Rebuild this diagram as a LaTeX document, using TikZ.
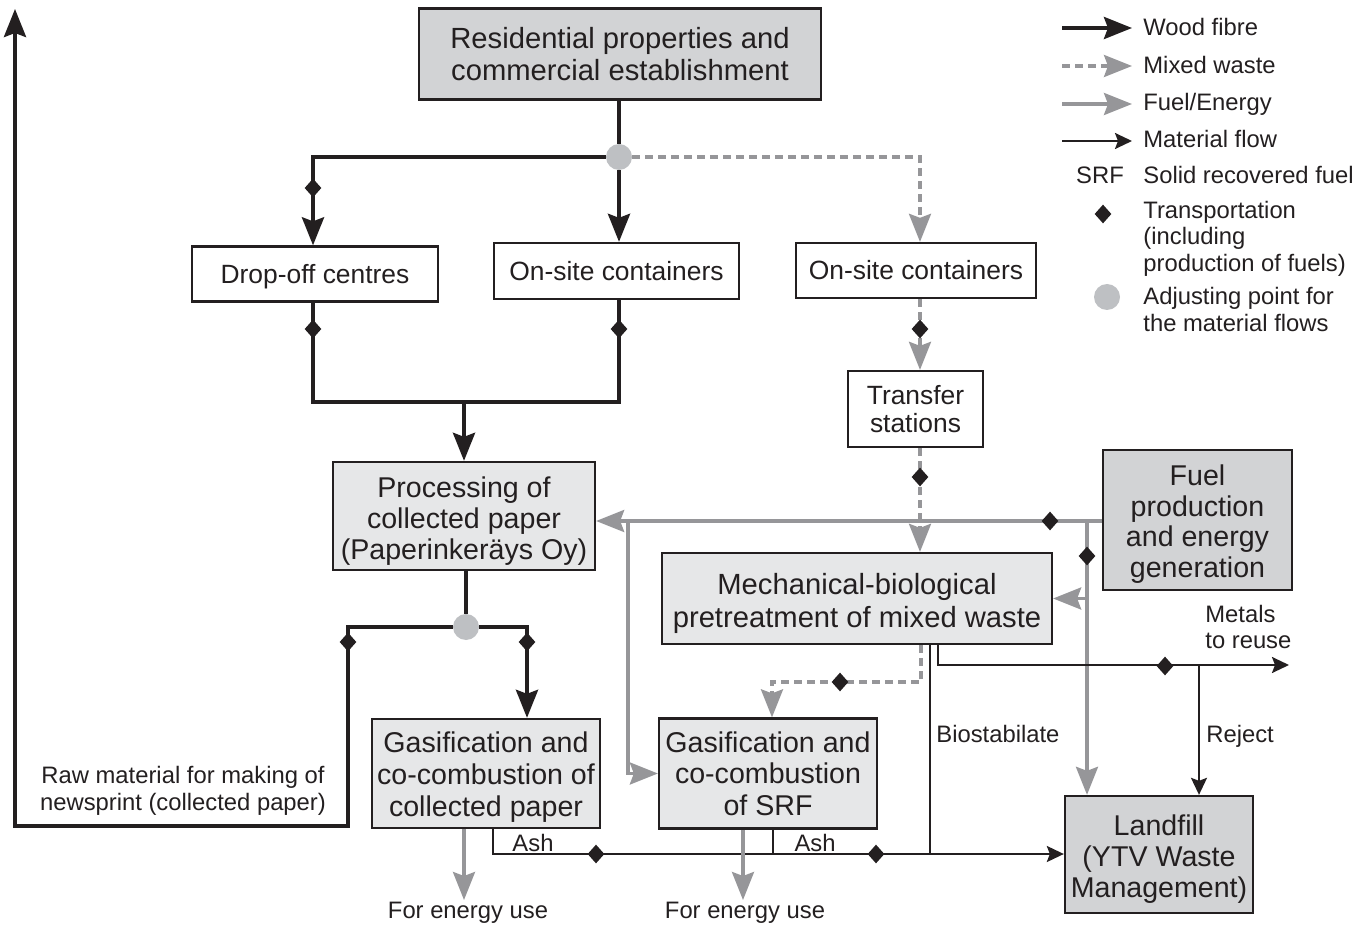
\documentclass[tikz,border=0pt]{standalone}
\usepackage{fontspec}
\setmainfont{Liberation Sans}
\usetikzlibrary{arrows.meta,shapes.geometric,calc}

\definecolor{ink}{RGB}{35,31,32}
\definecolor{flowgray}{RGB}{150,150,153}
\definecolor{boxdark}{RGB}{210,211,213}
\definecolor{boxlight}{RGB}{230,231,232}
\definecolor{jointgray}{RGB}{190,192,195}

\pgfdeclarelayer{lines}
\pgfsetlayers{lines,main}

% a taller first line balances the descenders of the last line
\newcommand{\firstline}[1]{\rule{0pt}{#1}}

\begin{document}
\begin{tikzpicture}[x=0.5pt,y=-0.5pt,
  box/.style={draw=ink,line width=1.15pt,inner sep=0pt,align=center,text=ink},
  whitebox/.style={box,fill=white,font=\fontsize{13.2}{13.6}\selectfont},
  lightbox/.style={box,fill=boxlight,font=\fontsize{14.3}{15.7}\selectfont},
  darkbox/.style={box,fill=boxdark,font=\fontsize{14.3}{15.4}\selectfont},
  lbl/.style={text=ink,font=\fontsize{11.9}{13.4}\selectfont,inner sep=0pt},
  bigtip/.style={-{Stealth[length=14pt,width=11pt,inset=2pt]}},
  smalltip/.style={-{Stealth[length=8.5pt,width=8pt,inset=1.5pt]}},
  wood/.style={draw=ink,line width=2pt},
  woodarrow/.style={wood,bigtip},
  mixed/.style={draw=flowgray,line width=1.6pt,dash pattern=on 4pt off 2.5pt},
  mixedarrow/.style={mixed,bigtip},
  fuel/.style={draw=flowgray,line width=1.7pt},
  fuelarrow/.style={fuel,bigtip},
  mat/.style={draw=ink,line width=1.1pt},
  matarrow/.style={mat,smalltip},
  transp/.style={diamond,fill=ink,inner sep=0pt,minimum width=8.5pt,minimum height=9.5pt},
  joint/.style={circle,fill=jointgray,inner sep=0pt,minimum size=13pt},
]
\useasboundingbox (0,0) rectangle (1371,925);

% ---------------- boxes ----------------
\node[darkbox,font=\fontsize{14.6}{16}\selectfont,minimum width=201pt,minimum height=45.5pt] (res) at (620,54)
  {Residential properties and\\commercial establishment};
\node[whitebox,minimum width=123pt,minimum height=27.5pt] (drop) at (315,274) {\firstline{12pt}Drop-off centres};
\node[whitebox,minimum width=122.5pt,minimum height=28pt] (site1) at (616.5,271) {On-site containers};
\node[whitebox,minimum width=120pt,minimum height=27.5pt] (site2) at (916,270.5) {On-site containers};
\node[whitebox,minimum width=67.5pt,minimum height=38pt] (trans) at (915.5,409) {Transfer\\stations};
\node[lightbox,minimum width=131pt,minimum height=54pt] (proc) at (464,516)
  {\firstline{15.4pt}Processing of\\collected paper\\(Paperinkeräys Oy)};
\node[lightbox,font=\fontsize{14.6}{16.5}\selectfont,minimum width=195pt,minimum height=45.5pt] (mbt) at (857,598.5)
  {\firstline{15.8pt}Mechanical-biological\\pretreatment of mixed waste};
\node[darkbox,minimum width=94.5pt,minimum height=70pt] (fuelp) at (1197.5,520)
  {\firstline{14.4pt}Fuel\\production\\and energy\\generation};
\node[lightbox,font=\fontsize{14.3}{16.2}\selectfont,minimum width=114pt,minimum height=54.5pt] (gasp) at (486,773.5)
  {\firstline{14pt}Gasification and\\co-combustion of\\collected paper};
\node[lightbox,minimum width=109pt,minimum height=55pt] (gass) at (768,773.5)
  {Gasification and\\co-combustion\\of SRF};
\node[darkbox,minimum width=94pt,minimum height=58.5pt] (land) at (1159,854.5)
  {\firstline{15pt}Landfill\\(YTV Waste\\Management)};

% ---------------- adjusting points ----------------
\node[joint] (j1) at (619,157) {};
\node[joint] (j2) at (466,627) {};

% ---------------- bends of the connectors ----------------
\coordinate (m1) at (464,402);
\coordinate (dx) at (920,0);
\coordinate (fb1) at (628,521);
\coordinate (fb2) at (1087,521);
\coordinate (mx) at (921,682);
\coordinate (srfin) at (772,682);
\coordinate (mt) at (938,665);
\coordinate (metals) at (1289,665);
\coordinate (rj) at (1199,665);
\coordinate (bs) at (930,854);
\coordinate (ash1) at (493,854);
\coordinate (ash2) at (773,854);
\coordinate (en1) at (464,900);
\coordinate (en2) at (743,900);
\coordinate (pl) at (348,627);
\coordinate (pr) at (527,627);
\coordinate (rawb) at (348,826);
\coordinate (rawc) at (15,826);
\coordinate (rawtop) at (15,9);

\begin{pgfonlayer}{lines}
  % wood fibre: collection of paper
  \draw[wood] (res.south -| j1) -- (j1);
  \draw[woodarrow] (j1) -| (drop.north -| 313,0);
  \draw[woodarrow] (j1) -- (j1 |- site1.north);
  \draw[wood] (drop.south -| 313,0) |- (m1) -| (site1.south -| j1);
  \draw[woodarrow] (m1) -- (m1 |- proc.north);
  % mixed waste chain
  \draw[mixedarrow] (j1) -| (site2.north -| dx);
  \draw[mixedarrow] (site2.south -| dx) -- (trans.north -| dx);
  \draw[mixedarrow] (trans.south -| dx) -- (mbt.north -| dx);
  % fuel / energy supply
  \draw[fuelarrow] (fuelp.west |- fb2) -- (proc.east |- fb2);
  \draw[fuelarrow] (fb1) |- (gass.west);
  \draw[fuelarrow] (fb2) -- (fb2 |- land.north);
  \draw[fuelarrow] (fb2 |- mbt.east) -- (mbt.east);
  % outputs of the mechanical-biological treatment
  \draw[mixedarrow] (mbt.south -| mx) -- (mx) -- (srfin) -- (srfin |- gass.north);
  \draw[matarrow] (mbt.south -| mt) |- (metals);
  \draw[matarrow] (rj) -- (rj |- land.north);
  \draw[mat] (mbt.south -| bs) -- (bs);
  % ash to landfill
  \draw[matarrow] (gasp.south -| ash1) -- (ash1) -- (land.west |- ash1);
  \draw[mat] (gass.south -| ash2) -- (ash2);
  % energy use
  \draw[fuelarrow] (gasp.south -| en1) -- (en1);
  \draw[fuelarrow] (gass.south -| en2) -- (en2);
  % collected paper outputs
  \draw[wood] (proc.south -| j2) -- (j2);
  \draw[woodarrow] (j2) -- (pr) -- (pr |- gasp.north);
  \draw[woodarrow] (j2) -- (pl) -- (rawb) -- (rawc) -- (rawtop);
\end{pgfonlayer}

% ---------------- transportation markers ----------------
\node[transp] (t1) at (313,188) {};
\node[transp] (t2) at (313,329) {};
\node[transp] (t3) at (619,329) {};
\node[transp] (t4) at (920,329) {};
\node[transp] (t5) at (920,477) {};
\node[transp] (t6) at (1050,521) {};
\node[transp] (t7) at (1087,556) {};
\node[transp] (t8) at (840,682) {};
\node[transp] (t9) at (1165,666) {};
\node[transp] (t10) at (348,642) {};
\node[transp] (t11) at (527,642) {};
\node[transp] (t12) at (596,854) {};
\node[transp] (t13) at (876,854) {};

% ---------------- labels ----------------
\node[lbl,align=center] (rawt) at (183,791) {Raw material for making of\\newsprint (collected paper)};
\node[lbl,anchor=base] (e1t) at (468,918) {For energy use};
\node[lbl,anchor=base] (e2t) at (745,918) {For energy use};
\node[lbl,anchor=base] (a1t) at (533,851) {Ash};
\node[lbl,anchor=base] (a2t) at (815,851) {Ash};
\node[lbl,anchor=base west] (bst) at (936,742) {Biostabilate};
\node[lbl,anchor=base west] (rjt) at (1206,742) {Reject};
\node[lbl,anchor=base west] (mt1) at (1205,622) {Metals};
\node[lbl,anchor=base west] (mt2) at (1205,648) {to reuse};

% ---------------- legend ----------------
\coordinate (la1) at (1062,28);  \coordinate (lb1) at (1132,28);
\coordinate (la2) at (1062,66);  \coordinate (lb2) at (1132,66);
\coordinate (la3) at (1062,104); \coordinate (lb3) at (1132,104);
\coordinate (la4) at (1062,141); \coordinate (lb4) at (1132,141);
\draw[woodarrow] (la1) -- (lb1);
\draw[mixedarrow] (la2) -- (lb2);
\draw[fuelarrow] (la3) -- (lb3);
\draw[matarrow] (la4) -- (lb4);
\node[lbl,anchor=base west] (l1) at (1143,36) {Wood fibre};
\node[lbl,anchor=base west] (l2) at (1143,74) {Mixed waste};
\node[lbl,anchor=base west] (l3) at (1143,111) {Fuel/Energy};
\node[lbl,anchor=base west] (l4) at (1143,148) {Material flow};
\node[lbl,anchor=base] (l5a) at (1100,184) {SRF};
\node[lbl,anchor=base west] (l5) at (1143,184) {Solid recovered fuel};
\node[transp] (ltr) at (1103,214) {};
\node[lbl,anchor=base west] (l6a) at (1143,219) {Transportation};
\node[lbl,anchor=base west] (l6b) at (1143,245) {(including};
\node[lbl,anchor=base west] (l6c) at (1143,271) {production of fuels)};
\node[joint] (ljn) at (1107,297) {};
\node[lbl,anchor=base west] (l7a) at (1143,305) {Adjusting point for};
\node[lbl,anchor=base west] (l7b) at (1143,331) {the material flows};
\end{tikzpicture}
\end{document}
